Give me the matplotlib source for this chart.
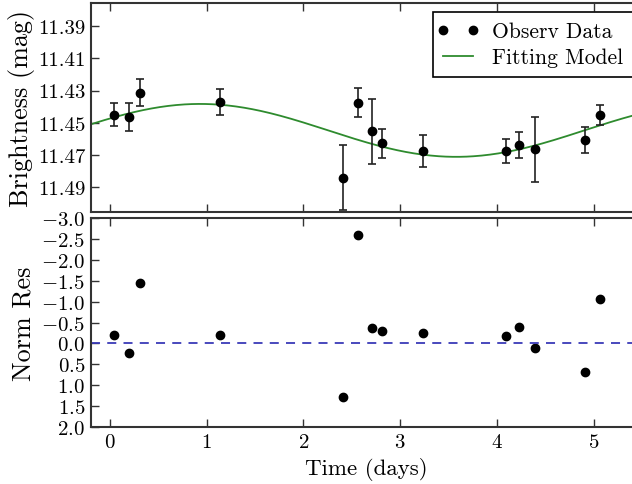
import numpy as np
import matplotlib
matplotlib.use("Agg")
import matplotlib.pyplot as plt
from matplotlib.lines import Line2D
from matplotlib.legend_handler import HandlerLine2D

plt.rcParams['font.family'] = ['serif']
plt.rcParams['font.serif'] = ['cmr10', 'DejaVu Serif']
plt.rcParams['mathtext.fontset'] = 'cm'
plt.rcParams['axes.formatter.use_mathtext'] = True
plt.rcParams['axes.unicode_minus'] = True

# Observed data
time = [0.04, 0.20, 0.31, 1.14, 2.41, 2.56, 2.71, 2.81, 3.24, 4.09, 4.23, 4.39, 4.91, 5.07]
mag = [11.4450, 11.4465, 11.4313, 11.4373, 11.4841, 11.4375, 11.4554, 11.4628,
       11.4678, 11.4678, 11.4639, 11.4666, 11.4607, 11.4453]
mag_err = [0.0070, 0.0087, 0.0082, 0.0080, 0.0200, 0.0092, 0.0204, 0.0090,
           0.0100, 0.0075, 0.0082, 0.0200, 0.0081, 0.0062]
norm_res = [-0.21, 0.23, -1.45, -0.21, 1.28, -2.60, -0.37, -0.30,
            -0.25, -0.17, -0.40, 0.11, 0.68, -1.06]

# Fitted sinusoidal model parameters
model_mean = 11.4548
model_amp = 0.01645
model_period = 5.30
model_tmax = 0.93  # time of brightest point (min mag)

top_yticks = [11.39, 11.41, 11.43, 11.45, 11.47, 11.49]
bot_yticks = [-3.0, -2.5, -2.0, -1.5, -1.0, -0.5, 0.0, 0.5, 1.0, 1.5, 2.0]
xticks = [0, 1, 2, 3, 4, 5]

fig = plt.figure(figsize=(6.32, 4.85), dpi=100)
left, right = 0.1435, 1.0157
ax1 = fig.add_axes([left, 0.561, right - left, 0.992 - 0.561])
ax2 = fig.add_axes([left, 0.1175, right - left, 0.548 - 0.1175])

tm = np.linspace(-0.2, 5.5, 400)
model = model_mean - model_amp * np.cos(2 * np.pi * (tm - model_tmax) / model_period)

ax1.errorbar(time, mag, yerr=mag_err, fmt='o', color='black', ecolor='#222222',
             markersize=6, capsize=3, elinewidth=1.2, capthick=1.2, zorder=3)
ax1.plot(tm, model, color='#2e8b2e', lw=1.3)
ax1.set_xlim(-0.2, 5.5)
ax1.set_ylim(11.5055, 11.3755)
ax1.set_yticks(top_yticks)
ax1.set_yticklabels([f"{v:.2f}" for v in top_yticks])
ax1.set_xticks(xticks)
ax1.tick_params(labelbottom=False)
ax1.set_ylabel('Brightness (mag)', fontsize=18.8)
ax1.yaxis.set_label_coords(-0.101, 0.5)
h_obs = Line2D([], [], color='black', marker='o', ls='none', markersize=6)
h_mod = Line2D([], [], color='#2e8b2e', lw=1.3)
leg = ax1.legend([h_obs, h_mod], ['Observ Data', 'Fitting Model'], loc='upper right',
                 numpoints=2, fontsize=15.5, fancybox=False,
                 framealpha=1, edgecolor='black', borderaxespad=0.42,
                 handlelength=1.4, handletextpad=0.9, borderpad=0.45, labelspacing=0.3,
                 handler_map={h_obs: HandlerLine2D(marker_pad=0, numpoints=2),
                              h_mod: HandlerLine2D(marker_pad=0)})
leg.get_frame().set_linewidth(1.2)

ax2.plot(time, norm_res, 'o', color='black', markersize=6)
ax2.axhline(0.0, color='#3a3ab8', ls='--', lw=1.3, dashes=(5, 4))
ax2.set_xlim(-0.2, 5.5)
ax2.set_ylim(2.0, -3.0)
ax2.set_yticks(bot_yticks)
ax2.set_xticks(xticks)
ax2.set_ylabel('Norm Res', fontsize=18.8)
ax2.yaxis.set_label_coords(-0.101, 0.5)
ax2.set_xlabel('Time (days)', fontsize=16.5)
ax2.xaxis.set_label_coords(0.5, -0.145)

for ax in (ax1, ax2):
    ax.tick_params(direction='in', top=True, right=True, labelsize=15,
                   length=6, width=1, color='#333333', pad=4)
    for sp in ax.spines.values():
        sp.set_linewidth(1.5)
        sp.set_color('#333333')

fig.savefig('out.png', dpi=100)
